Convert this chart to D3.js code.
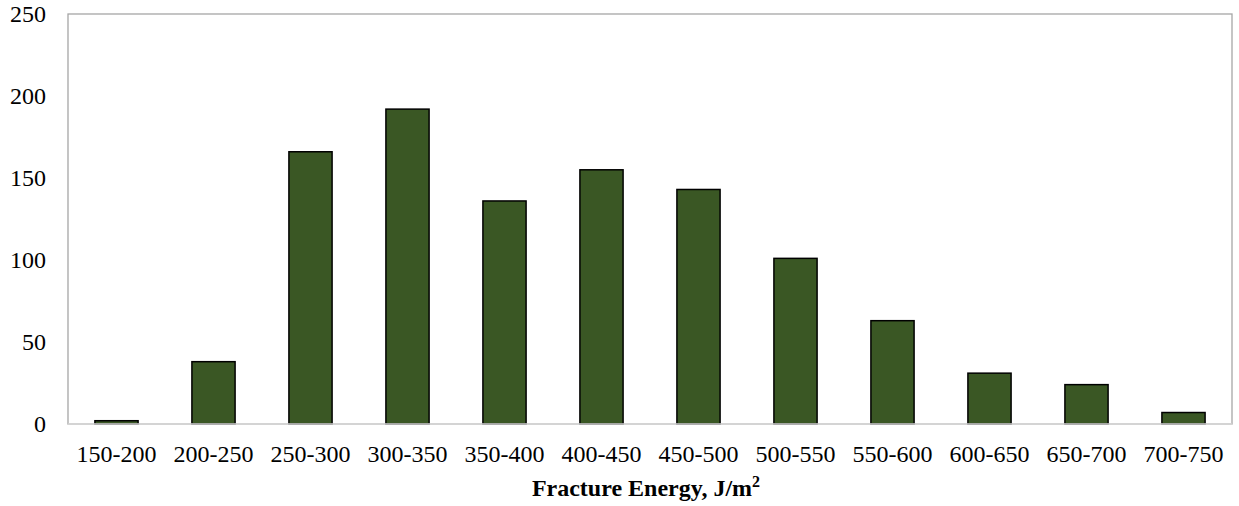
<!DOCTYPE html>
<html>
<head>
<meta charset="utf-8">
<script src="https://cdn.jsdelivr.net/npm/d3@7"></script>
<style>
  html, body { margin: 0; padding: 0; background: #fff; }
  svg { display: block; }
  text { font-family: "Liberation Serif", "Times New Roman", serif; fill: #000; }
</style>
</head>
<body>
<svg id="chart" width="1239" height="506"></svg>
<script>
// Fracture energy distribution (counts per bin)
const categories = ["150-200", "200-250", "250-300", "300-350", "350-400", "400-450",
                    "450-500", "500-550", "550-600", "600-650", "650-700", "700-750"];
const counts = [2, 38, 166, 192, 136, 155, 143, 101, 63, 31, 24, 7];
const yTicks = [0, 50, 100, 150, 200, 250];
const xTitle = "Fracture Energy, J/m";

const svg = d3.select("#chart");
const margin = { left: 68, right: 7, top: 14, bottom: 82 };
const W = 1239, H = 506;
const plotW = W - margin.left - margin.right;
const plotH = H - margin.top - margin.bottom;

const x = d3.scaleBand().domain(categories).range([0, plotW]).paddingInner(0.555).paddingOuter(0.2775);
const y = d3.scaleLinear().domain([0, 250]).range([plotH, 0]);

const g = svg.append("g").attr("transform", `translate(${margin.left},${margin.top})`);

// plot frame
g.append("rect")
  .attr("x", 0).attr("y", 0).attr("width", plotW).attr("height", plotH)
  .attr("fill", "none").attr("stroke", "#a6a6a6").attr("stroke-width", 1.3);

// bars
g.selectAll("rect.bar").data(counts).join("rect")
  .attr("class", "bar")
  .attr("x", (d, i) => x(categories[i]))
  .attr("y", d => y(d))
  .attr("width", x.bandwidth())
  .attr("height", d => y(0) - y(d))
  .attr("fill", "#3a5724")
  .attr("stroke", "#000")
  .attr("stroke-width", 1.5);

// baseline
g.append("line")
  .attr("x1", 0).attr("x2", plotW).attr("y1", plotH).attr("y2", plotH)
  .attr("stroke", "#d9d9d9").attr("stroke-width", 1.5);

// y axis labels
const yAxis = d3.axisLeft(y).tickValues(yTicks).tickSize(0).tickPadding(22);
const yg = g.append("g").call(yAxis);
yg.select(".domain").remove();
yg.selectAll("text").attr("font-size", 24).attr("font-family", "Liberation Serif");

// x axis labels
const xAxis = d3.axisBottom(x).tickSize(0).tickPadding(21);
const xg = g.append("g").attr("transform", `translate(0,${plotH})`).call(xAxis);
xg.select(".domain").remove();
xg.selectAll("text").attr("font-size", 24).attr("font-family", "Liberation Serif");

// axis title
const t = svg.append("text")
  .attr("x", 646)
  .attr("y", 496)
  .attr("text-anchor", "middle")
  .attr("font-size", 24)
  .attr("font-weight", "bold");
t.append("tspan").text(xTitle);
t.append("tspan").attr("font-size", 16).attr("dy", -9).text("2");
</script>
</body>
</html>
